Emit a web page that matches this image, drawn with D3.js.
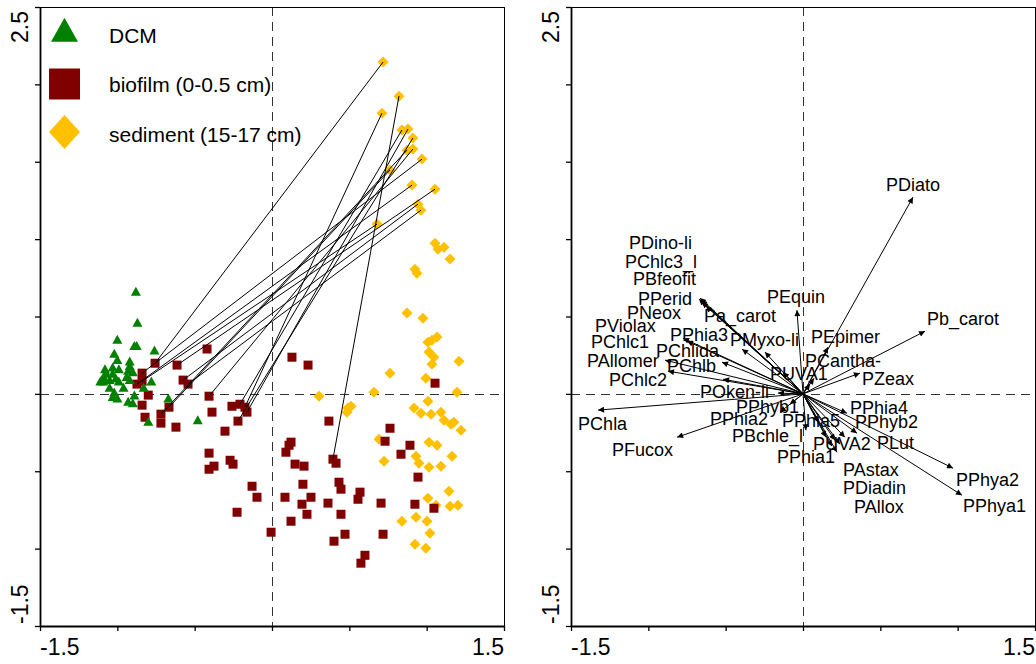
<!DOCTYPE html>
<html>
<head>
<meta charset="utf-8">
<script src="https://cdn.jsdelivr.net/npm/d3@7"></script>
<style>
  html, body { margin: 0; padding: 0; background: #fff; }
  svg { display: block; font-family: "Liberation Sans", Arial, sans-serif; }
</style>
</head>
<body>
<svg id="chart" width="1036" height="664"></svg>
<script>
// ---- Sample scores (axis 1, axis 2) ----
const dcm = [
  [-0.88,0.66],[-0.87,0.46],[-1.00,0.35],[-0.89,0.31],[-0.875,0.31],[-0.76,0.28],[-1.02,0.26],
  [-1.00,0.22],[-0.92,0.21],[-0.92,0.18],[-1.08,0.16],[-1.03,0.17],[-0.99,0.16],[-1.07,0.13],
  [-1.03,0.13],[-0.93,0.15],[-0.90,0.14],[-0.94,0.11],[-1.09,0.08],[-1.05,0.09],[-1.01,0.10],
  [-0.99,0.08],[-0.92,0.09],[-0.78,0.08],[-1.05,0.04],[-0.96,0.04],[-1.02,0.01],[-0.89,-0.01],
  [-1.03,-0.02],[-1.00,-0.03],[-0.93,-0.05],[-0.90,-0.06],[-0.67,-0.03],[-0.83,0.04],
  [-0.80,-0.18],[-0.48,-0.17],[-1.09,0.11],[-1.11,0.08]
];
const biofilm = [
  [-0.42,0.29],[-0.756,0.198],[-0.614,0.186],[-0.84,0.134],[-0.873,0.063],[-0.84,0.082],
  [-0.575,0.089],[-0.543,0.063],[-0.80,-0.008],[-0.407,-0.015],[-0.84,-0.073],[-0.821,-0.151],
  [-0.666,-0.086],[-0.718,-0.131],[-0.718,-0.189],[-0.621,-0.215],[-0.388,-0.118],[-0.259,-0.080],
  [-0.207,-0.067],[-0.175,-0.086],[-0.162,-0.118],[-0.220,-0.176],[-0.304,-0.241],[-0.407,-0.383],
  [-0.375,-0.467],[-0.407,-0.487],[-0.271,-0.429],[-0.252,-0.454],[-0.129,-0.597],[-0.097,-0.668],
  [-0.226,-0.765],[-0.006,-0.894],[0.123,-0.312],[0.110,-0.332],[0.090,-0.377],[0.149,-0.454],
  [0.207,-0.467],[0.200,-0.584],[0.084,-0.668],[0.194,-0.713],[0.252,-0.668],[0.226,-0.778],
  [0.123,-0.823],[0.129,0.237],[0.233,0.186],[0.368,-0.176],[0.394,-0.422],[0.414,-0.448],
  [0.433,-0.571],[0.446,-0.616],[0.362,-0.706],[0.446,-0.778],[0.472,-0.907],[0.401,-0.952],
  [0.569,-0.635],[0.556,-0.681],[0.601,-1.043],[0.575,-1.094],[0.763,-0.222],[0.731,-0.306],
  [0.892,-0.332],[0.834,-0.390],[0.944,-0.538],[0.705,-0.706],[0.924,-0.713],[1.047,-0.739],
  [0.718,-0.907],[1.054,0.069]
];
const sediment = [
  [0.718,2.144],[0.821,1.924],[0.711,1.814],[0.840,1.705],[0.879,1.711],[0.911,1.653],
  [0.873,1.575],[0.911,1.582],[0.970,1.517],[0.763,1.446],[0.905,1.349],[1.054,1.323],
  [0.944,1.226],[0.963,1.187],[0.679,1.097],
  [1.054,0.974],[1.073,0.935],[1.112,0.948],[1.151,0.871],[0.924,0.806],[0.937,0.780],
  [0.873,0.522],[0.976,0.489],[1.008,0.334],[1.034,0.347],[1.067,0.367],[1.015,0.270],
  [1.047,0.237],[1.034,0.192],[1.209,0.211],[0.763,0.134],[0.995,0.101],[0.659,0.011],
  [1.196,0.011],[0.304,-0.015],
  [1.008,-0.047],[0.918,-0.092],[0.963,-0.125],[1.028,-0.131],[1.092,-0.118],[1.112,-0.170],
  [1.157,-0.196],[1.176,-0.183],[1.222,-0.235],[0.491,-0.092],[0.511,-0.080],[0.485,-0.118],
  [0.692,-0.293],[1.015,-0.312],[1.067,-0.332],[0.724,-0.435],[0.931,-0.403],[0.950,-0.448],
  [1.015,-0.474],[1.092,-0.467],[1.164,-0.403],[1.144,-0.629],[1.008,-0.674],[1.060,-0.720],
  [1.151,-0.726],[1.202,-0.720],[0.840,-0.823],[0.931,-0.797],[1.002,-0.823],[1.021,-0.901],
  [0.924,-0.972],[0.995,-0.998]
];
// paired samples: [biofilm index, sediment index]
const links = [
  [1,0],[46,1],[19,2],[18,3],[20,4],[21,5],[9,7],[13,6],
  [3,8],[12,9],[4,10],[2,11],[6,12],[7,13],[5,14]
];

// ---- Pigment loadings ----
const pigments = [
  "PDiato","Pb_carot","PEquin","PEpimer","PCantha-","PZeax","PUVA1","PMyxo-li","Pa_carot","PPhia3",
  "PDino-li","PChlc3_l","PBfeofit","PPerid","PNeox","PViolax","PChlc1","PChlida","PAllomer","PChlb",
  "PChlc2","POken-li","PChla","PFucox","PPhyb1","PPhia2","PBchle_l","PPhia5","PPhia1","PUVA2",
  "PLut","PPhia4","PPhyb2","PAstax","PDiadin","PAllox","PPhya2","PPhya1"
];
const pigmentTips = [
  [0.711,1.271],[0.789,0.405],[-0.039,0.541],[0.162,0.302],[0.071,0.101],[0.368,0.134],[0.045,0.063],
  [-0.129,0.140],[-0.246,0.270],[-0.394,0.289],[-0.666,0.619],[-0.659,0.606],[-0.653,0.593],
  [-0.672,0.612],[-0.627,0.567],[-0.776,0.360],[-0.750,0.341],[-0.524,0.205],[-0.892,0.218],
  [-0.517,0.095],[-0.873,0.147],[-0.162,0.005],[-1.325,-0.105],[-0.814,-0.280],[-0.084,-0.067],
  [-0.149,-0.118],[0.019,-0.235],[0.097,-0.183],[0.149,-0.280],[0.220,-0.377],[0.271,-0.280],
  [0.284,-0.125],[0.349,-0.254],[0.207,-0.299],[0.239,-0.325],[0.187,-0.338],[0.970,-0.480],
  [1.028,-0.655]
];
const pigmentLabelAt = [
  [0.537,1.310],[0.802,0.444],[-0.233,0.586],[0.052,0.328],[0.013,0.173],[0.381,0.056],[-0.213,0.089],
  [-0.472,0.308],[-0.640,0.463],[-0.860,0.341],[-1.125,0.935],[-1.151,0.813],[-1.099,0.703],
  [-1.067,0.573],[-1.138,0.483],[-1.345,0.399],[-1.370,0.295],[-0.950,0.237],[-1.396,0.173],
  [-0.879,0.140],[-1.254,0.050],[-0.666,-0.028],[-1.454,-0.235],[-1.235,-0.403],[-0.433,-0.125],
  [-0.601,-0.202],[-0.459,-0.312],[-0.136,-0.215],[-0.168,-0.448],[0.065,-0.364],[0.478,-0.357],
  [0.304,-0.131],[0.336,-0.222],[0.259,-0.532],[0.259,-0.648],[0.330,-0.771],[0.989,-0.597],
  [1.034,-0.765]
];

// ---- Axes ----
const xDomain = [-1.5, 1.5];
const yDomain = [-1.5, 2.5];
const xTicks = [-1.5, -1, -0.5, 0, 0.5, 1, 1.5];
const yTicks = [-1.5, -1, -0.5, 0, 0.5, 1, 1.5, 2, 2.5];
const xTickLabels = ["-1.5", "1.5"];
const yTickLabels = ["-1.5", "2.5"];

const legendItems = ["DCM", "biofilm (0-0.5 cm)", "sediment (15-17 cm)"];
const groupColors = ["#008000", "#800000", "#FFC000"];

const svg = d3.select("#chart");
const panelW = 464, plotTop = 7, plotBottom = 626;
const panels = [40, 571];

function triPath(cx, cy, w, h) {
  return `M${cx},${cy - h * 0.55}L${cx + w / 2},${cy + h * 0.45}L${cx - w / 2},${cy + h * 0.45}Z`;
}
function sqPath(cx, cy, s) {
  return `M${cx - s / 2},${cy - s / 2}h${s}v${s}h${-s}Z`;
}
function diaPath(cx, cy, w, h) {
  return `M${cx},${cy - h / 2}L${cx + w / 2},${cy}L${cx},${cy + h / 2}L${cx - w / 2},${cy}Z`;
}

function drawFrame(g, x, y) {
  const [x0, x1] = x.range();
  // zero lines
  g.append("line").attr("x1", x(0) + 0.5).attr("x2", x(0) + 0.5).attr("y1", plotTop).attr("y2", plotBottom)
    .attr("stroke", "#333").attr("stroke-width", 1).attr("stroke-dasharray", "9,6");
  g.append("line").attr("x1", x0).attr("x2", x1).attr("y1", Math.round(y(0)) + 0.5).attr("y2", Math.round(y(0)) + 0.5)
    .attr("stroke", "#333").attr("stroke-width", 1).attr("stroke-dasharray", "9,6");
  // box
  g.append("rect").attr("x", x0 + 0.5).attr("y", plotTop + 0.5).attr("width", x1 - x0).attr("height", plotBottom - plotTop)
    .attr("fill", "none").attr("stroke", "#000").attr("stroke-width", 1);
  // axes
  const ax = g.append("g").attr("transform", `translate(0,${plotBottom})`)
    .call(d3.axisBottom(x).tickValues(xTicks).tickSize(5).tickSizeOuter(0).tickFormat(""));
  const ay = g.append("g").attr("transform", `translate(${x0},0)`)
    .call(d3.axisLeft(y).tickValues(yTicks).tickSize(5).tickSizeOuter(0).tickFormat(""));
  [ax, ay].forEach(a => {
    a.select(".domain").attr("stroke", "#000").attr("stroke-width", 1.8);
    a.selectAll(".tick line").attr("stroke", "#000").attr("stroke-width", 1.3);
  });
  // end labels
  g.append("text").attr("x", x(xDomain[0])).attr("y", 655).attr("text-anchor", "start")
    .attr("font-size", 23).text(xTickLabels[0]);
  g.append("text").attr("x", x(xDomain[1])).attr("y", 655).attr("text-anchor", "end")
    .attr("font-size", 23).text(xTickLabels[1]);
  g.append("text").attr("transform", `translate(${x0 - 12},${y(yDomain[0]) - 2}) rotate(-90)`)
    .attr("text-anchor", "start").attr("font-size", 23).text(yTickLabels[0]);
  g.append("text").attr("transform", `translate(${x0 - 12},${y(yDomain[1]) + 4}) rotate(-90)`)
    .attr("text-anchor", "end").attr("font-size", 23).text(yTickLabels[1]);
}

// ---- Left panel: samples ----
{
  const x = d3.scaleLinear().domain(xDomain).range([panels[0], panels[0] + panelW]);
  const y = d3.scaleLinear().domain(yDomain).range([plotBottom, plotTop]);
  const g = svg.append("g");
  drawFrame(g, x, y);

  g.append("g").selectAll("path").data(sediment).join("path")
    .attr("d", d => diaPath(x(d[0]), y(d[1]), 11, 11)).attr("fill", groupColors[2]);
  g.append("g").selectAll("path").data(biofilm).join("path")
    .attr("d", d => sqPath(x(d[0]), y(d[1]), 9)).attr("fill", groupColors[1]);
  g.append("g").selectAll("path").data(dcm).join("path")
    .attr("d", d => triPath(x(d[0]), y(d[1]), 10, 9)).attr("fill", groupColors[0]);

  g.append("g").selectAll("line").data(links).join("line")
    .attr("x1", d => x(biofilm[d[0]][0])).attr("y1", d => y(biofilm[d[0]][1]))
    .attr("x2", d => x(sediment[d[1]][0])).attr("y2", d => y(sediment[d[1]][1]))
    .attr("stroke", "#000").attr("stroke-width", 1);

  // legend
  const lg = g.append("g");
  lg.append("path").attr("d", triPath(64.5, 31, 27, 24)).attr("fill", groupColors[0]);
  lg.append("path").attr("d", sqPath(64.5, 84, 31)).attr("fill", groupColors[1]);
  lg.append("path").attr("d", diaPath(64.5, 132, 31, 34)).attr("fill", groupColors[2]);
  [43, 92, 142].forEach((by, i) => {
    lg.append("text").attr("x", 109).attr("y", by).attr("font-size", 21).text(legendItems[i]);
  });
}

// ---- Right panel: pigment biplot ----
{
  const x = d3.scaleLinear().domain(xDomain).range([panels[1], panels[1] + panelW]);
  const y = d3.scaleLinear().domain(yDomain).range([plotBottom, plotTop]);
  const g = svg.append("g");
  drawFrame(g, x, y);

  svg.append("defs").append("marker").attr("id", "head")
    .attr("viewBox", "0 0 10 10").attr("refX", 10).attr("refY", 5)
    .attr("markerWidth", 8).attr("markerHeight", 6).attr("markerUnits", "userSpaceOnUse")
    .attr("orient", "auto")
    .append("path").attr("d", "M0,0L10,5L0,10Z").attr("fill", "#000");

  g.append("g").selectAll("line").data(pigmentTips).join("line")
    .attr("x1", x(0)).attr("y1", y(0))
    .attr("x2", d => x(d[0])).attr("y2", d => y(d[1]))
    .attr("stroke", "#000").attr("stroke-width", 1).attr("marker-end", "url(#head)");

  g.append("g").selectAll("text").data(pigments).join("text")
    .attr("x", (d, i) => x(pigmentLabelAt[i][0])).attr("y", (d, i) => y(pigmentLabelAt[i][1]))
    .attr("font-size", 18).text(d => d);
}
</script>
</body>
</html>
